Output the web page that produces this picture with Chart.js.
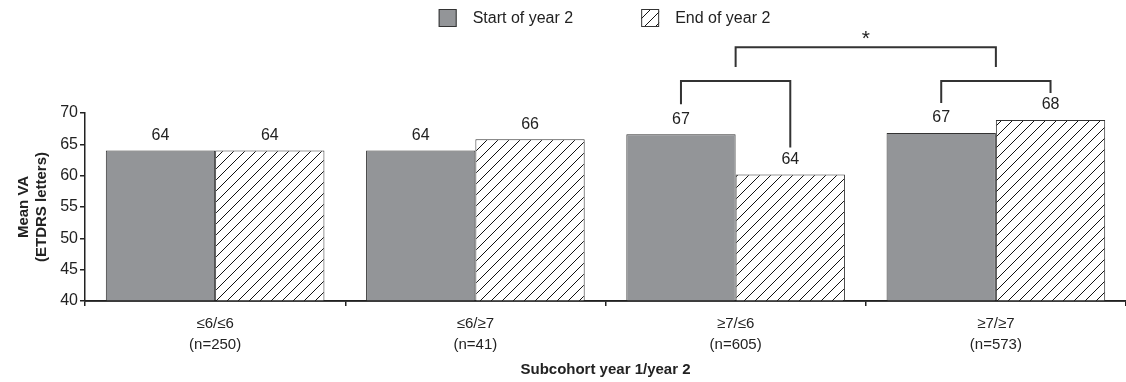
<!DOCTYPE html>
<html>
<head>
<meta charset="utf-8">
<script src="https://cdn.jsdelivr.net/npm/chart.js@4.4.0/dist/chart.umd.min.js"></script>
<style>
  html, body { margin: 0; padding: 0; background: #fff; }
  #wrap { width: 1126px; height: 382px; }
</style>
</head>
<body>
<div id="wrap"><canvas id="chart" width="1126" height="382"></canvas></div>
<script>
const categories = [['≤6/≤6', '(n=250)'], ['≤6/≥7', '(n=41)'], ['≥7/≤6', '(n=605)'], ['≥7/≥7', '(n=573)']];
const seriesNames = ['Start of year 2', 'End of year 2'];
const startValues = [64.0, 64.0, 66.6, 66.8];
const endValues = [64.0, 65.8, 60.2, 68.9];
const startLabels = ['64', '64', '67', '67'];
const endLabels = ['64', '66', '64', '68'];
const yTicks = [40, 45, 50, 55, 60, 65, 70];

const FONT = '"Liberation Sans", Arial, Helvetica, sans-serif';
const INK = '#222';
const GREY = '#939598';

function hatch() {
    const s = 11;
    const c = document.createElement('canvas');
    c.width = s; c.height = s;
    const g = c.getContext('2d');
    g.fillStyle = '#fff';
    g.fillRect(0, 0, s, s);
    g.strokeStyle = '#111';
    g.lineWidth = 1;
    g.beginPath();
    g.moveTo(0, s); g.lineTo(s, 0);
    g.moveTo(-2, 2); g.lineTo(2, -2);
    g.moveTo(s - 2, s + 2); g.lineTo(s + 2, s - 2);
    g.stroke();
    return g.createPattern(c, 'repeat');
}
const hatchFill = hatch();

// legend, value labels and significance brackets
const extras = {
    id: 'extras',
    afterDatasetsDraw(chart) {
        const ctx = chart.ctx;
        const area = chart.chartArea;
        const x = chart.scales.x, y = chart.scales.y;
        ctx.save();

        // axis line runs to the right edge
        ctx.strokeStyle = INK;
        ctx.lineWidth = 1.5;
        ctx.beginPath();
        ctx.moveTo(area.left, area.bottom);
        ctx.lineTo(chart.width, area.bottom);
        ctx.stroke();

        // value labels
        ctx.font = '16px ' + FONT;
        ctx.fillStyle = INK;
        ctx.textAlign = 'center';
        ctx.textBaseline = 'middle';
        [startLabels, endLabels].forEach((labels, d) => {
            chart.getDatasetMeta(d).data.forEach((bar, i) => {
                ctx.fillText(labels[i], bar.x, bar.y - 15);
            });
        });

        // brackets
        ctx.strokeStyle = '#333';
        ctx.lineWidth = 2;
        const lowY = y.getPixelForValue(75.1);
        [2, 3].forEach(i => {
            const a = chart.getDatasetMeta(0).data[i];
            const b = chart.getDatasetMeta(1).data[i];
            ctx.beginPath();
            ctx.moveTo(a.x, a.y - 30);
            ctx.lineTo(a.x, lowY);
            ctx.lineTo(b.x, lowY);
            ctx.lineTo(b.x, b.y - 27);
            ctx.stroke();
        });
        const highY = y.getPixelForValue(80.5);
        const x1 = x.getPixelForValue(2), x2 = x.getPixelForValue(3);
        ctx.beginPath();
        ctx.moveTo(x1, lowY - 14);
        ctx.lineTo(x1, highY);
        ctx.lineTo(x2, highY);
        ctx.lineTo(x2, lowY - 14);
        ctx.stroke();
        ctx.font = '21px ' + FONT;
        ctx.fillText('*', (x1 + x2) / 2, highY - 8);

        // legend
        ctx.font = '16px ' + FONT;
        ctx.textAlign = 'left';
        const box = 18, gap = 16, between = 68;
        const w = seriesNames.map(t => box + gap + ctx.measureText(t).width);
        let lx = (area.left + area.right) / 2 - 1 - (w[0] + w[1] + between) / 2;
        const ly = 18;
        seriesNames.forEach((t, d) => {
            ctx.fillStyle = chart.data.datasets[d].backgroundColor;
            ctx.fillRect(lx, ly - box / 2, box, box);
            ctx.strokeStyle = '#333';
            ctx.lineWidth = 1;
            ctx.strokeRect(lx + 0.5, ly - box / 2 + 0.5, box - 1, box - 1);
            ctx.fillStyle = INK;
            ctx.fillText(t, lx + box + gap, ly + 1);
            lx += w[d] + between;
        });
        ctx.restore();
    }
};

new Chart(document.getElementById('chart'), {
    type: 'bar',
    data: {
        labels: categories,
        datasets: [{
            label: seriesNames[0],
            data: startValues,
            backgroundColor: GREY,
            borderColor: '#333',
            borderWidth: 1
        }, {
            label: seriesNames[1],
            data: endValues,
            backgroundColor: hatchFill,
            borderColor: '#333',
            borderWidth: 1
        }]
    },
    options: {
        responsive: false,
        animation: false,
        events: [],
        layout: { padding: { top: 113, right: 0, bottom: 0, left: 0 } },
        datasets: { bar: { categoryPercentage: 0.84, barPercentage: 1.0 } },
        plugins: {
            legend: { display: false },
            tooltip: { enabled: false }
        },
        scales: {
            x: {
                afterFit: s => { s.height = 81; },
                grid: {
                    offset: true,
                    drawOnChartArea: false,
                    tickLength: 5,
                    color: ctx => ctx.index === 4 ? 'rgba(0,0,0,0)' : INK,
                    lineWidth: 1.5
                },
                border: { display: true, color: INK, width: 1.5 },
                ticks: {
                    color: INK,
                    padding: 8,
                    font: { family: FONT, size: 15, lineHeight: 1.35 }
                },
                title: {
                    display: true,
                    text: 'Subcohort year 1/year 2',
                    color: INK,
                    font: { family: FONT, size: 15, weight: 'bold' },
                    padding: { top: 0, bottom: 3 }
                }
            },
            y: {
                min: 40,
                max: 70,
                afterFit: s => { s.width = 85; },
                afterBuildTicks: s => { s.ticks = yTicks.map(v => ({ value: v })); },
                grid: {
                    drawOnChartArea: false,
                    tickLength: 5,
                    color: INK,
                    lineWidth: 1.5
                },
                border: { display: true, color: INK, width: 1.5 },
                ticks: {
                    color: INK,
                    padding: 2,
                    font: { family: FONT, size: 16 }
                },
                title: {
                    display: true,
                    text: ['Mean VA', '(ETDRS letters)'],
                    color: INK,
                    font: { family: FONT, size: 15, weight: 'bold', lineHeight: 1.2 },
                    padding: { top: 15, bottom: 0 }
                }
            }
        }
    },
    plugins: [extras]
});
</script>
</body>
</html>
